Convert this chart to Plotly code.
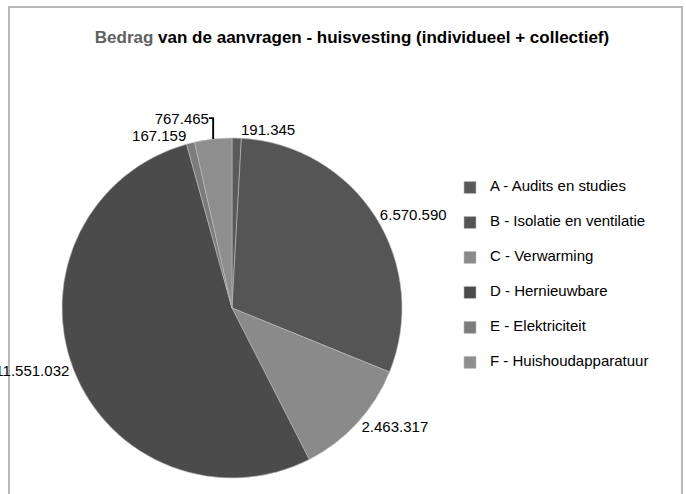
import plotly.graph_objects as go

# data
categories = ["A - Audits en studies", "B - Isolatie en ventilatie", "C - Verwarming",
              "D - Hernieuwbare", "E - Elektriciteit", "F - Huishoudapparatuur"]
amounts = [191345, 6570590, 2463317, 11551032, 167159, 767465]
slice_colors = ["#5a5a5a", "#555555", "#8a8a8a", "#4b4b4b", "#7c7c7c", "#8e8e8e"]

font_family = "Liberation Sans Narrow, Liberation Sans, Arial Narrow, sans-serif"

# legend rows in the original are ~35px apart: pad each label with thin blank lines
legend_labels = ["&nbsp;<br><span style='font-size:15px'>" + c + "</span><br>&nbsp;" for c in categories]

W, H = 686, 494
cx, cy, r = 232, 308, 170

fig = go.Figure()
fig.add_trace(
    go.Pie(
        labels=legend_labels,
        values=amounts,
        sort=False,
        direction="clockwise",
        rotation=0,
        marker=dict(colors=slice_colors, line=dict(color="#bdbdbd", width=0.6)),
        texttemplate="%{value:,}",
        textposition="outside",
        textfont=dict(size=15, color="#000000", family=font_family),
        domain=dict(x=[(cx - r) / W, (cx + r) / W], y=[(H - cy - r) / H, (H - cy + r) / H]),
        automargin=False,
        hoverinfo="label+value+percent",
    )
)

fig.update_layout(
    width=W,
    height=H,
    separators=",.",
    margin=dict(l=0, r=0, t=0, b=0),
    paper_bgcolor="white",
    font=dict(family=font_family, color="#000000"),
    title=dict(
        text="<span style='color:#606060'>Bedrag</span> van de aanvragen - huisvesting (individueel + collectief)",
        x=352 / W, xanchor="center",
        y=1 - 37 / H, yanchor="middle",
        font=dict(size=17, family=font_family, color="#000000", weight="bold"),
    ),
    legend=dict(
        x=450 / W, xanchor="left",
        y=1 - 165 / H, yanchor="top",
        font=dict(size=8.2, family=font_family, color="#000000"),
        itemwidth=30,
        bgcolor="rgba(0,0,0,0)",
    ),
    shapes=[
        dict(type="rect", xref="paper", yref="paper",
             x0=9 / W, x1=682 / W, y0=-0.05, y1=1 - 7 / H,
             line=dict(color="#a0a0a0", width=1.5), fillcolor="rgba(0,0,0,0)", layer="below"),
    ],
)

fig.write_html("out.html", config={"displayModeBar": False},
               post_script="document.body.style.margin='0';")
